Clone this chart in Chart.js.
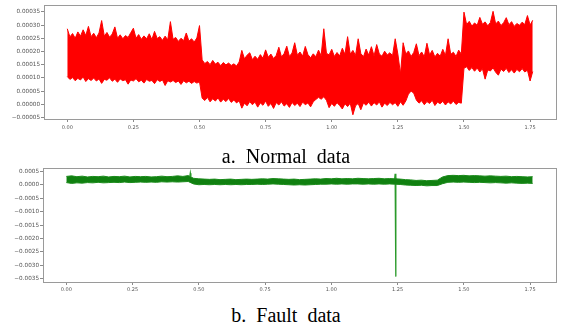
<!DOCTYPE html>
<html>
<head>
<meta charset="utf-8">
<script src="https://cdn.jsdelivr.net/npm/chart.js@4/dist/chart.umd.min.js"></script>
<style>
  html, body { margin: 0; padding: 0; background: #fff; }
  body { width: 562px; height: 329px; position: relative; overflow: hidden; }
  canvas { position: absolute; left: 0; }
  #normalCanvas { top: 0; }
  #faultCanvas { top: 163px; }
  .caption {
    position: absolute; left: 0; width: 572px; text-align: center;
    font-family: "Liberation Serif", "Times New Roman", serif;
    font-size: 20px; line-height: 20px; color: #000; white-space: pre;
  }
  #capA { top: 146px; }
  #capB { top: 305px; }
</style>
</head>
<body>
<canvas id="normalCanvas" width="562" height="135"></canvas>
<canvas id="faultCanvas" width="562" height="135"></canvas>
<div class="caption" id="capA">a.  Normal  data</div>
<div class="caption" id="capB">b.  Fault  data</div>
<script>
// Sampling interval of each trace (seconds)
const normalStep = 0.01;
const faultStep = 0.02;

// Normal signal: upper and lower edge of the noise band, in units of 1e-5
const normalHigh = [
  28.6, 25.5, 26.8, 25.0, 27.4, 25.8, 28.2, 26.0, 29.5, 25.6,
  26.9, 25.2, 27.0, 31.7, 25.8, 27.2, 25.4, 26.6, 29.3, 25.0,
  26.3, 24.8, 26.0, 25.3, 27.1, 28.8, 25.0, 26.4, 24.6, 25.9,
  24.8, 26.7, 24.5, 27.6, 24.9, 25.6, 24.2, 25.8, 24.4, 31.3,
  24.6, 25.3, 23.8, 25.0, 24.1, 27.0, 23.9, 24.8, 23.6, 25.1,
  29.8, 16.8, 15.4, 16.2, 15.0, 16.6, 15.2, 15.9, 14.6, 15.8,
  14.9, 15.6, 14.7, 15.3, 14.5, 16.0, 20.4, 17.2, 18.6, 19.5,
  16.9, 18.2, 17.0, 18.8, 17.4, 20.6, 17.8, 19.0, 17.3, 18.5,
  21.6, 17.9, 19.2, 22.0, 18.1, 19.4, 23.3, 18.6, 19.8, 18.2,
  21.9, 18.8, 17.6, 19.1, 18.0, 20.5, 18.4, 28.6, 19.3, 18.7,
  20.8, 18.1, 19.6, 18.3, 21.2, 18.9, 25.6, 19.0, 20.4, 18.5,
  24.8, 19.2, 18.0, 20.9, 18.6, 21.8, 18.3, 22.6, 19.0, 18.2,
  20.1, 18.7, 19.5, 18.4, 24.8, 19.0, 11.5, 23.3, 19.0, 20.2,
  18.1, 19.6, 22.9, 18.4, 19.8, 18.0, 23.1, 18.7, 20.4, 17.9,
  19.3, 18.2, 20.8, 18.5, 24.8, 18.9, 19.7, 18.1, 20.5, 19.0,
  34.9, 30.2, 31.4, 29.6, 30.8, 29.9, 32.9, 30.3, 31.2, 29.7,
  31.0, 35.2, 30.4, 31.5, 29.8, 30.9, 32.8, 30.1, 31.3, 29.5,
  30.6, 29.9, 31.1, 30.2, 33.6, 30.0, 31.8
];
const normalLow = [
  10.5, 9.4, 10.1, 8.9, 9.8, 9.2, 10.3, 8.6, 9.7, 9.0,
  9.9, 8.8, 9.6, 7.9, 9.4, 9.1, 10.0, 8.7, 9.5, 8.3,
  9.6, 8.9, 9.3, 7.6, 9.2, 8.8, 9.7, 8.5, 9.1, 8.0,
  9.4, 8.7, 9.0, 7.8, 9.3, 8.6, 9.2, 7.1, 8.9, 8.4,
  9.0, 8.2, 8.8, 7.5, 8.9, 8.1, 8.7, 7.9, 8.6, 8.0,
  8.5, 2.3, 1.4, 2.6, 0.9, 2.1, 1.2, 2.4, 0.8, 1.9,
  1.0, 2.2, 0.7, 1.6, 0.5, 1.3, -1.5, 0.4, -0.6, 1.0,
  -0.2, 0.8, -1.1, 0.5, -0.4, 1.2, -0.8, 0.3, -1.6, 0.6,
  -0.3, 0.9, -0.7, 0.2, -1.2, 0.7, -0.5, 0.4, -0.9, 0.8,
  -0.2, 0.5, -1.0, 0.9, 1.8, 2.6, 1.9, 2.8, 1.5, -1.3,
  0.3, -0.8, 0.6, -0.5, -1.8, 0.2, -0.9, 0.4, -4.0, -0.6,
  0.3, -2.1, 0.5, -0.4, 0.8, -0.7, 0.6, -0.3, 0.9, -1.1,
  0.4, -0.5, 0.7, -0.2, 0.6, -0.8, 0.9, -0.4, 1.2, 3.8,
  5.0, 4.2, 1.6, 0.4, 1.3, -0.2, 1.0, 0.3, 1.5, -0.5,
  0.8, 0.2, 1.1, -0.3, 0.9, 0.1, 1.2, -0.1, 0.7, 0.4,
  13.6, 14.2, 12.8, 13.9, 12.5, 13.7, 12.2, 13.4, 9.5, 13.0,
  12.6, 13.8, 12.1, 11.0, 13.3, 12.4, 13.6, 12.0, 13.1, 11.8,
  13.2, 12.3, 13.5, 12.2, 12.9, 8.8, 12.4
];

// Fault signal: upper and lower edge of the band, in units of 1e-5
const faultHigh = [
  31, 33, 30, 32, 29, 31, 30, 32, 29, 31,
  30, 32, 29, 31, 30, 31, 29, 30, 32, 30,
  31, 33, 31, 34, 24, 22, 21, 20, 21, 19,
  20, 21, 19, 20, 21, 20, 21, 22, 21, 23,
  22, 21, 20, 21, 19, 20, 21, 22, 21, 23,
  22, 24, 22, 23, 22, 24, 23, 22, 23, 24,
  22, 23, 22, 21, 19, 18, 16, 17, 15, 16,
  17, 29, 34, 35, 34, 35, 33, 34, 33, 32,
  33, 32, 31, 32, 30, 31, 30, 29, 30
];
const faultLow = [
  8, 5, 7, 6, 8, 7, 9, 7, 8, 9,
  8, 10, 8, 9, 10, 9, 10, 9, 11, 10,
  11, 10, 11, 12, 3, 0, 1, 0, 1, 0,
  1, 0, 1, 0, 1, 1, 2, 1, 2, 3,
  2, 1, 0, -1, 0, -1, 0, 1, 2, 2,
  3, 2, 3, 2, 3, 3, 2, 3, 2, 3,
  2, 3, 2, 1, -1, -2, -3, -2, -4, -3,
  -3, 4, 9, 10, 9, 10, 9, 8, 9, 8,
  7, 8, 7, 6, 7, 6, 5, 6, 5
];

// Short excursions of the fault trace (time, value in 1e-5); null splits strokes
const faultSpikeT = [0.466, 0.468, 0.470, null, 1.239, 1.241, 1.243, 1.244, 1.246];
const faultSpikeV = [30, 43, 30, null, 20, 41, -342, 28, 12];

// Axis ticks
const timeTicks = [0, 0.25, 0.5, 0.75, 1, 1.25, 1.5, 1.75];
const normalYTicks = [-0.00005, 0, 0.00005, 0.0001, 0.00015, 0.0002, 0.00025, 0.0003, 0.00035];
const faultYTicks = [-0.0035, -0.003, -0.0025, -0.002, -0.0015, -0.001, -0.0005, 0, 0.0005];

const E5 = 1e-5;
const toPoints = (arr, step) => arr.map((v, i) => ({ x: +(i * step).toFixed(3), y: v * E5 }));

const fmt = (v, d) => {
  const s = Math.abs(v).toFixed(d);
  return v < 0 ? '\u2212' + s : s;
};

// Box around the plotting area
const framePlugin = {
  id: 'frame',
  afterDraw(chart) {
    const { ctx, chartArea: a } = chart;
    ctx.save();
    ctx.strokeStyle = '#9a9a9a';
    ctx.lineWidth = 1;
    ctx.strokeRect(Math.round(a.left) + 0.5, Math.round(a.top) + 0.5,
                   Math.round(a.right - a.left), Math.round(a.bottom - a.top));
    ctx.restore();
  }
};

function axes(yTicks, yDec, yMin, yMax, yWidth, xPad) {
  return {
    x: {
      type: 'linear', min: -0.088, max: 1.848,
      afterBuildTicks: s => { s.ticks = timeTicks.map(v => ({ value: v })); },
      afterFit: s => { s.height = 16; },
      border: { display: false },
      grid: { display: true, drawOnChartArea: false, drawTicks: true, tickLength: 3, color: '#8a8a8a' },
      ticks: {
        maxRotation: 0, autoSkip: false, padding: xPad,
        font: { family: 'DejaVu Sans', size: 5 }, color: '#555',
        callback: v => fmt(v, 2)
      }
    },
    y: {
      type: 'linear', min: yMin, max: yMax,
      afterBuildTicks: s => { s.ticks = yTicks.map(v => ({ value: v })); },
      afterFit: s => { s.width = yWidth; },
      border: { display: false },
      grid: { display: true, drawOnChartArea: false, drawTicks: true, tickLength: 3, color: '#8a8a8a' },
      ticks: {
        autoSkip: false, padding: 1,
        font: { family: 'DejaVu Sans', size: 5.7 }, color: '#555',
        callback: v => fmt(v, yDec)
      }
    }
  };
}

const common = {
  responsive: false, animation: false, devicePixelRatio: 1,
  plugins: { legend: { display: false }, tooltip: { enabled: false } },
  elements: { point: { radius: 0 }, line: { tension: 0 } }
};

new Chart(document.getElementById('normalCanvas'), {
  type: 'line',
  data: {
    datasets: [
      { data: toPoints(normalHigh, normalStep), borderColor: '#ff0000', borderWidth: 1, fill: false },
      { data: toPoints(normalLow, normalStep), borderColor: '#ff0000', borderWidth: 1,
        backgroundColor: '#ff0000', fill: '-1' }
    ]
  },
  options: Object.assign({}, common, {
    layout: { padding: { top: 5, right: 6, left: 0, bottom: 0 } },
    scales: axes(normalYTicks, 5, -0.000056, 0.000376, 44, 3)
  }),
  plugins: [framePlugin]
});

new Chart(document.getElementById('faultCanvas'), {
  type: 'line',
  data: {
    datasets: [
      { data: toPoints(faultHigh, faultStep), borderColor: '#1a8a1a', borderWidth: 1, fill: false },
      { data: toPoints(faultLow, faultStep), borderColor: '#1a8a1a', borderWidth: 1,
        backgroundColor: '#108010', fill: '-1' },
      { data: faultSpikeT.map((t, i) => ({ x: t, y: faultSpikeV[i] === null ? null : faultSpikeV[i] * E5 })),
        borderColor: '#2a9a2a', borderWidth: 1.3, fill: false, spanGaps: false }
    ]
  },
  options: Object.assign({}, common, {
    layout: { padding: { top: 5, right: 6, left: 0, bottom: 0 } },
    scales: axes(faultYTicks, 4, -0.00362, 0.000623, 43, 2)
  }),
  plugins: [framePlugin]
});
</script>
</body>
</html>
